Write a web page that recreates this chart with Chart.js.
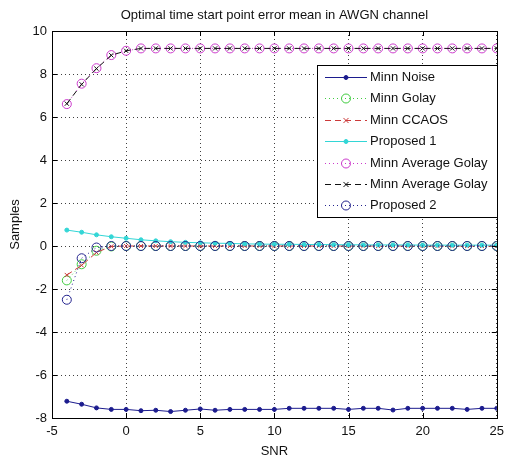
<!DOCTYPE html>
<html>
<head>
<meta charset="utf-8">
<title>Optimal time start point error mean</title>
<script src="https://cdn.jsdelivr.net/npm/chart.js"></script>
<style>
    body { margin: 0; background: #fff; }
    #wrap { width: 510px; height: 459px; }
</style>
</head>
<body>
<div id="wrap"><canvas id="errChart" width="510" height="459"></canvas></div>
<script>
// SNR points (dB)
const snr = [-4, -3, -2, -1, 0, 1, 2, 3, 4, 5, 6, 7, 8, 9, 10, 11, 12, 13, 14, 15, 16, 17, 18, 19, 20, 21, 22, 23, 24, 25];

// mean start point error, in samples
const minnNoise = [-7.22, -7.36, -7.53, -7.6, -7.6, -7.66, -7.64, -7.7, -7.64, -7.58, -7.64, -7.6, -7.6, -7.6, -7.6,
    -7.55, -7.55, -7.55, -7.55, -7.6, -7.55, -7.55, -7.63, -7.55, -7.55, -7.55, -7.55, -7.6, -7.55, -7.55];
const minnGolay = [-1.6, -0.85, -0.22, -0.02, 0, 0, 0, 0, 0, 0, 0, 0, 0, 0, 0,
    0, 0, 0, 0, 0, 0, 0, 0, 0, 0, 0, 0, 0, 0, 0];
const minnCcaos = [-1.35, -0.9, -0.3, -0.02, 0, 0, 0, 0, 0, 0, 0, 0, 0, 0, 0,
    0, 0, 0, 0, 0, 0, 0, 0, 0, 0, 0, 0, 0, 0, 0];
const proposed1 = [0.74, 0.64, 0.52, 0.43, 0.36, 0.29, 0.24, 0.2, 0.17, 0.15, 0.13, 0.12, 0.1, 0.09, 0.08,
    0.08, 0.07, 0.07, 0.06, 0.06, 0.05, 0.05, 0.05, 0.05, 0.04, 0.04, 0.04, 0.04, 0.04, 0.04];
const minnAvgGolay = [6.6, 7.55, 8.27, 8.88, 9.08, 9.19, 9.19, 9.19, 9.19, 9.19, 9.19, 9.19, 9.19, 9.19, 9.19,
    9.19, 9.19, 9.19, 9.19, 9.19, 9.19, 9.19, 9.19, 9.19, 9.19, 9.19, 9.19, 9.19, 9.19, 9.19];
const minnAvgGolay2 = [6.62, 7.52, 8.25, 8.87, 9.08, 9.19, 9.19, 9.19, 9.19, 9.19, 9.19, 9.19, 9.19, 9.19, 9.19,
    9.19, 9.19, 9.19, 9.19, 9.19, 9.19, 9.19, 9.19, 9.19, 9.19, 9.19, 9.19, 9.19, 9.19, 9.19];
const proposed2 = [-2.5, -0.57, -0.07, 0, 0, 0, 0, 0, 0, 0, 0, 0, 0, 0, 0,
    0, 0, 0, 0, 0, 0, 0, 0, 0, 0, 0, 0, 0, 0, 0];

const seriesNames = ['Minn Noise', 'Minn Golay', 'Minn CCAOS', 'Proposed 1', 'Minn Average Golay', 'Minn Average Golay', 'Proposed 2'];
const xTicks = [-5, 0, 5, 10, 15, 20, 25];
const yTicks = [-8, -6, -4, -2, 0, 2, 4, 6, 8, 10];
const chartTitle = 'Optimal time start point error mean in AWGN channel';

const FONT = 'Liberation Sans, Arial, sans-serif';
const FSIZE = 13;
const DOTTED = [1, 3];
const DASHED = [6, 4];

function pts(vals) {
    return snr.map((x, i) => ({ x: x, y: vals[i] }));
}

// line style + marker per curve
const styles = [
    { color: '#1c1c8e', dash: [], marker: 'circle', r: 2, fill: true },
    { color: '#3fcc3f', dash: DOTTED, marker: 'circle', r: 4.5, fill: false },
    { color: '#cc3a3a', dash: DASHED, marker: 'crossRot', r: 3, fill: false },
    { color: '#33d6d6', dash: [], marker: 'circle', r: 2, fill: true },
    { color: '#cc3acc', dash: DOTTED, marker: 'circle', r: 4.5, fill: false },
    { color: '#111111', dash: DASHED, marker: 'crossRot', r: 3, fill: false },
    { color: '#24248e', dash: DOTTED, marker: 'circle', r: 4.5, fill: false }
];
const values = [minnNoise, minnGolay, minnCcaos, proposed1, minnAvgGolay, minnAvgGolay2, proposed2];

const datasets = values.map((v, i) => {
    const s = styles[i];
    return {
        label: seriesNames[i],
        data: pts(v),
        borderColor: s.color,
        borderWidth: 1,
        borderDash: s.dash,
        backgroundColor: s.fill ? s.color : 'rgba(0,0,0,0)',
        pointStyle: s.marker,
        pointRadius: s.r,
        pointBorderColor: s.color,
        pointBackgroundColor: s.fill ? s.color : 'rgba(0,0,0,0)',
        pointBorderWidth: 1,
        tension: 0,
        fill: false,
        order: values.length - i   // later curves on top
    };
});

function drawMarker(ctx, s, x, y) {
    ctx.save();
    ctx.setLineDash([]);
    ctx.strokeStyle = s.color;
    ctx.fillStyle = s.color;
    ctx.lineWidth = 1;
    ctx.beginPath();
    if (s.marker === 'circle') {
        ctx.arc(x, y, s.r, 0, Math.PI * 2);
        if (s.fill) ctx.fill();
        ctx.stroke();
    } else {
        const d = s.r * Math.SQRT1_2 * 1.2;
        ctx.moveTo(x - d, y - d); ctx.lineTo(x + d, y + d);
        ctx.moveTo(x + d, y - d); ctx.lineTo(x - d, y + d);
        ctx.stroke();
    }
    ctx.restore();
}

// title over the plot, box frame, inward ticks and boxed legend
const framePlugin = {
    id: 'frame',
    afterDraw(chart) {
        const ctx = chart.ctx;
        const a = chart.chartArea;
        const xs = chart.scales.x, ys = chart.scales.y;
        ctx.save();

        ctx.fillStyle = '#111';
        ctx.font = FSIZE + 'px ' + FONT;
        ctx.textAlign = 'center';
        ctx.textBaseline = 'middle';
        ctx.fillText(chartTitle, (a.left + a.right) / 2, 15);

        ctx.strokeStyle = '#000';
        ctx.lineWidth = 1;
        ctx.setLineDash([]);
        ctx.strokeRect(Math.round(a.left) + 0.5, Math.round(a.top) + 0.5,
            Math.round(a.right - a.left), Math.round(a.bottom - a.top));
        ctx.beginPath();
        xTicks.forEach(t => {
            const px = Math.round(xs.getPixelForValue(t)) + 0.5;
            ctx.moveTo(px, a.bottom); ctx.lineTo(px, a.bottom - 5);
            ctx.moveTo(px, a.top); ctx.lineTo(px, a.top + 5);
        });
        yTicks.forEach(t => {
            const py = Math.round(ys.getPixelForValue(t)) + 0.5;
            ctx.moveTo(a.left, py); ctx.lineTo(a.left + 5, py);
            ctx.moveTo(a.right, py); ctx.lineTo(a.right - 5, py);
        });
        ctx.stroke();

        // legend
        const lx = 317, ly = 65, lw = 180, lh = 152;
        ctx.fillStyle = '#fff';
        ctx.fillRect(lx, ly, lw, lh);
        ctx.strokeStyle = '#000';
        ctx.strokeRect(lx + 0.5, ly + 0.5, lw, lh);
        ctx.textAlign = 'left';
        seriesNames.forEach((name, i) => {
            const s = styles[i];
            const y = Math.round(77 + i * 21.4) + 0.5;
            ctx.strokeStyle = s.color;
            ctx.setLineDash(s.dash);
            ctx.beginPath();
            ctx.moveTo(325, y); ctx.lineTo(367, y);
            ctx.stroke();
            drawMarker(ctx, s, 346, y);
            ctx.fillStyle = '#111';
            ctx.fillText(name, 370, y);
        });
        ctx.restore();
    }
};

const ctxErr = document.getElementById('errChart').getContext('2d');

new Chart(ctxErr, {
    type: 'line',
    data: { datasets: datasets },
    plugins: [framePlugin],
    options: {
        responsive: false,
        animation: false,
        layout: { padding: { top: 31, right: 8, left: 0, bottom: 0 } },
        plugins: {
            legend: { display: false },
            tooltip: { enabled: false },
            title: { display: false }
        },
        scales: {
            x: {
                type: 'linear',
                min: -5,
                max: 25,
                afterBuildTicks: (scale) => { scale.ticks = xTicks.map(v => ({ value: v })); },
                afterFit: (scale) => { scale.height = 41; },
                grid: {
                    color: 'rgba(0,0,0,0.75)',
                    lineWidth: 1,
                    drawTicks: false
                },
                border: { display: true, color: '#000', dash: DOTTED },
                ticks: {
                    color: '#111',
                    font: { family: FONT, size: FSIZE },
                    padding: 6,
                    maxRotation: 0
                },
                title: {
                    display: true,
                    text: 'SNR',
                    color: '#111',
                    font: { family: FONT, size: FSIZE },
                    padding: { top: 0, bottom: 0 }
                }
            },
            y: {
                min: -8,
                max: 10,
                afterBuildTicks: (scale) => { scale.ticks = yTicks.map(v => ({ value: v })); },
                afterFit: (scale) => { scale.width = 52; },
                grid: {
                    color: 'rgba(0,0,0,0.75)',
                    lineWidth: 1,
                    drawTicks: false
                },
                border: { display: true, color: '#000', dash: DOTTED },
                ticks: {
                    color: '#111',
                    font: { family: FONT, size: FSIZE },
                    padding: 5
                },
                title: {
                    display: true,
                    text: 'Samples',
                    color: '#111',
                    font: { family: FONT, size: FSIZE },
                    padding: { top: 8, bottom: 0 }
                }
            }
        }
    }
});
</script>
</body>
</html>
